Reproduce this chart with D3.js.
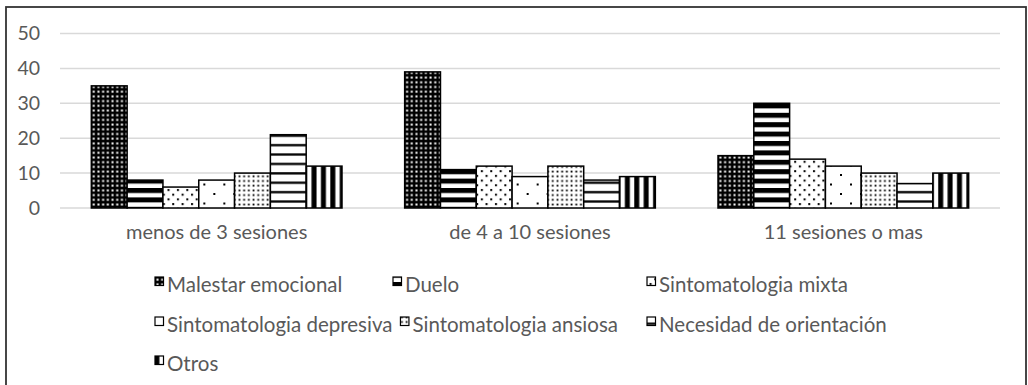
<!DOCTYPE html>
<html>
<head>
<meta charset="utf-8">
<script src="https://cdn.jsdelivr.net/npm/d3@7"></script>
<style>
    body { margin: 0; background: #fff; }
    text { font-family: Lato, "Open Sans", sans-serif; fill: #595959; }
</style>
</head>
<body>
<svg id="chart"></svg>
<script>
const categories = ['menos de 3 sesiones', 'de 4 a 10 sesiones', '11 sesiones o mas'];
const seriesNames = ['Malestar emocional', 'Duelo', 'Sintomatologia mixta', 'Sintomatologia depresiva',
    'Sintomatologia ansiosa', 'Necesidad de orientación', 'Otros'];
const malestar = [35, 39, 15];
const duelo = [8, 11, 30];
const mixta = [6, 12, 14];
const depresiva = [8, 9, 12];
const ansiosa = [10, 12, 10];
const orientacion = [21, 8, 7];
const otros = [12, 9, 10];
const yTicks = [0, 10, 20, 30, 40, 50];

const seriesValues = [malestar, duelo, mixta, depresiva, ansiosa, orientacion, otros];
const patternIds = ['p-malestar', 'p-duelo', 'p-mixta', 'p-depresiva', 'p-ansiosa', 'p-orientacion', 'p-otros'];

const width = 1028, height = 385;
const margin = { top: 33.5, right: 28, bottom: 177, left: 60 };

const svg = d3.select('#chart').attr('width', width).attr('height', height);

// fill patterns (black & white, like the office ones)
const defs = svg.append('defs');
function pattern(id, w, h) {
    return defs.append('pattern').attr('id', id).attr('patternUnits', 'userSpaceOnUse')
        .attr('width', w).attr('height', h);
}
let p = pattern('p-malestar', 4.7, 4.7);
p.append('rect').attr('width', 4.7).attr('height', 4.7).attr('fill', '#000');
p.append('rect').attr('x', 1.4).attr('y', 1.4).attr('width', 2).attr('height', 2).attr('fill', '#fff');

p = pattern('p-duelo', 9.4, 9.4);
p.append('rect').attr('width', 9.4).attr('height', 9.4).attr('fill', '#fff');
p.append('rect').attr('y', 0).attr('width', 9.4).attr('height', 5).attr('fill', '#000');

p = pattern('p-mixta', 9.4, 9.4);
p.append('rect').attr('width', 9.4).attr('height', 9.4).attr('fill', '#fff');
p.append('rect').attr('x', 1).attr('y', 1).attr('width', 2).attr('height', 2).attr('fill', '#000');
p.append('rect').attr('x', 5.7).attr('y', 5.7).attr('width', 2).attr('height', 2).attr('fill', '#000');

p = pattern('p-depresiva', 20, 19);
p.append('rect').attr('width', 20).attr('height', 19).attr('fill', '#fff');
p.append('rect').attr('x', 2).attr('y', 3).attr('width', 2).attr('height', 2).attr('fill', '#000');
p.append('rect').attr('x', 12).attr('y', 12.5).attr('width', 2).attr('height', 2).attr('fill', '#000');

p = pattern('p-ansiosa', 4.7, 4.7);
p.append('rect').attr('width', 4.7).attr('height', 4.7).attr('fill', '#fff');
p.append('rect').attr('x', 1.5).attr('y', 1.5).attr('width', 1.8).attr('height', 1.8).attr('fill', '#000');

p = pattern('p-orientacion', 9.4, 9.4);
p.append('rect').attr('width', 9.4).attr('height', 9.4).attr('fill', '#fff');
p.append('rect').attr('y', 3).attr('width', 9.4).attr('height', 2.3).attr('fill', '#000');

p = pattern('p-otros', 9.4, 9.4);
p.append('rect').attr('width', 9.4).attr('height', 9.4).attr('fill', '#fff');
p.append('rect').attr('x', 4).attr('width', 5).attr('height', 9.4).attr('fill', '#000');

// outer frame
svg.append('rect').attr('x', 6).attr('y', 7).attr('width', 1020).attr('height', 385)
    .attr('fill', 'none').attr('stroke', '#333').attr('stroke-width', 1.8);

const x0 = d3.scaleBand().domain(categories)
    .range([margin.left, width - margin.right])
    .paddingInner(0.2).paddingOuter(0.1);
const x1 = d3.scaleBand().domain(d3.range(seriesNames.length)).range([0, x0.bandwidth()]);
const y = d3.scaleLinear().domain([0, 50]).range([height - margin.bottom, margin.top]);

// gridlines
svg.append('g').selectAll('line').data(yTicks).join('line')
    .attr('x1', margin.left).attr('x2', width - margin.right)
    .attr('y1', d => y(d)).attr('y2', d => y(d))
    .attr('stroke', '#d9d9d9').attr('stroke-width', 1.5);

// y axis labels
const yAxis = d3.axisLeft(y).tickValues(yTicks).tickSize(0).tickPadding(20);
const yAxisG = svg.append('g').attr('transform', `translate(${margin.left},0)`).call(yAxis);
yAxisG.select('.domain').remove();
yAxisG.selectAll('text').style('font-size', '19.5px').attr('fill', '#595959');

// x axis labels
const xAxis = d3.axisBottom(x0).tickSize(0).tickPadding(17);
const xAxisG = svg.append('g').attr('transform', `translate(0,${y(0)})`).call(xAxis);
xAxisG.select('.domain').remove();
xAxisG.selectAll('text').style('font-size', '20px').attr('fill', '#595959');

// bars
const groups = svg.append('g').selectAll('g').data(categories).join('g')
    .attr('transform', d => `translate(${x0(d)},0)`);
groups.selectAll('rect')
    .data((c, ci) => seriesValues.map((vals, si) => ({ si: si, value: vals[ci] })))
    .join('rect')
    .attr('x', d => x1(d.si))
    .attr('y', d => y(d.value))
    .attr('width', x1.bandwidth())
    .attr('height', d => y(0) - y(d.value))
    .attr('fill', d => `url(#${patternIds[d.si]})`)
    .attr('stroke', '#000').attr('stroke-width', 1.5);

// legend, three columns, items flow to the right when text is long
const legendCols = [155, 393, 647];
const legendRows = [292, 332, 371];
const legend = svg.append('g');
let prevEnd = 0;
seriesNames.forEach((name, i) => {
    const row = Math.floor(i / 3), col = i % 3;
    if (col === 0) prevEnd = 0;
    const lx = Math.max(legendCols[col], prevEnd + 8);
    const ly = legendRows[row];
    legend.append('rect').attr('x', lx).attr('y', ly - 15).attr('width', 8.5).attr('height', 8.5)
        .attr('fill', `url(#${patternIds[i]})`).attr('stroke', '#000').attr('stroke-width', 1.2);
    const t = legend.append('text').attr('x', lx + 12).attr('y', ly)
        .style('font-size', '20.5px').text(name);
    prevEnd = lx + 12 + t.node().getComputedTextLength();
});
</script>
</body>
</html>
